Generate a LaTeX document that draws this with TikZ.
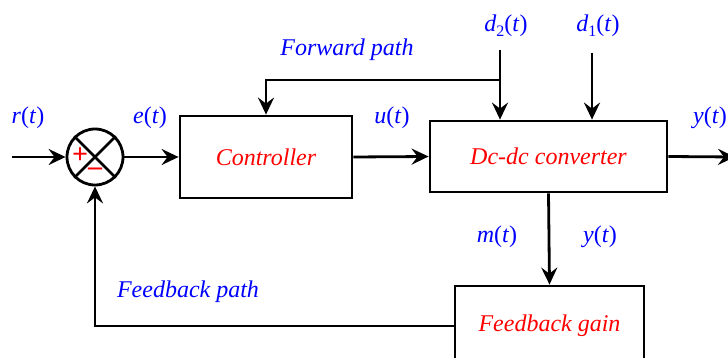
\documentclass[tikz,border=0pt]{standalone}
\usepackage{fontspec}
\setmainfont{Liberation Serif}
\newfontfamily\tnr{Liberation Serif}
\usetikzlibrary{arrows.meta}
\begin{document}
\begin{tikzpicture}[x=1pt,y=-1pt,
  every node/.style={font=\tnr\fontsize{24}{28}\selectfont},
  lbl/.style={text=blue, inner sep=0pt},
  blk/.style={draw, line width=2.8pt, text=red, font=\tnr\fontsize{24}{28}\selectfont\itshape, inner sep=0pt},
  arr/.style={line width=2.8pt, -{Stealth[length=17pt,width=16pt,inset=6pt]}},
  ln/.style={line width=2.8pt}]
\useasboundingbox (0,0) rectangle (728,358);
\clip (0,0) rectangle (728,358);
% blocks
\node[draw, circle, line width=2.8pt, minimum size=56pt, inner sep=0pt] (s) at (95,157) {};
\draw[ln] (s.north west) -- (s.south east);
\draw[ln] (s.north east) -- (s.south west);
\node[text=red, inner sep=0pt, font=\tnr\fontsize{28}{30}\selectfont\bfseries] (plus) at (80,156) {+};
\node[text=red, inner sep=0pt, font=\tnr\fontsize{28}{30}\selectfont\bfseries] (minus) at (95,172) {\char"2013};
\node[blk, minimum width=172pt, minimum height=82pt] (ctrl) at (266,157) {Controller};
\node[blk, minimum width=237pt, minimum height=71pt] (conv) at (548.5,156.5) {Dc-dc converter};
\node[blk, minimum width=189pt, minimum height=80pt] (fb) at (549.5,326) {Feedback gain};
% coordinates
\coordinate (in) at (12,157);
\coordinate (out) at (735,157);
\coordinate (d2top) at (500,50);
\coordinate (d1top) at (592,53);
\coordinate (fp) at (500,80);
% connectors
\draw[arr] (in) -- (s.west);
\draw[arr] (s.east) -- (ctrl.west);
\draw[arr] (ctrl.east) -- (conv.west);
\draw[arr] (conv.east) -- (out);
\draw[arr] (d2top) -- (d2top |- conv.north);
\draw[arr] (d1top) -- (d1top |- conv.north);
\draw[arr] (fp) -| (ctrl.north);
\draw[arr] (conv.south) -- (fb.north);
\draw[arr] (fb.west) -| (s.south);
% labels
\node[lbl] (lr) at (28,118) {\textit{r}(\textit{t})};
\node[lbl] (le) at (150,118) {\textit{e}(\textit{t})};
\node[lbl] (lu) at (392,118) {\textit{u}(\textit{t})};
\node[lbl] (ly) at (710,118) {\textit{y}(\textit{t})};
\node[lbl] (ld2) at (506,26) {\textit{d}\raisebox{-5pt}{\fontsize{16}{18}\selectfont 2}(\textit{t})};
\node[lbl] (ld1) at (598,26) {\textit{d}\raisebox{-5pt}{\fontsize{16}{18}\selectfont 1}(\textit{t})};
\node[lbl, font=\tnr\fontsize{24}{28}\selectfont\itshape] (lfp) at (347,50) {Forward path};
\node[lbl] (lm) at (497,237) {\textit{m}(\textit{t})};
\node[lbl] (ly2) at (600,237) {\textit{y}(\textit{t})};
\node[lbl, font=\tnr\fontsize{24}{28}\selectfont\itshape] (lfb) at (188,292) {Feedback path};
\end{tikzpicture}
\end{document}
